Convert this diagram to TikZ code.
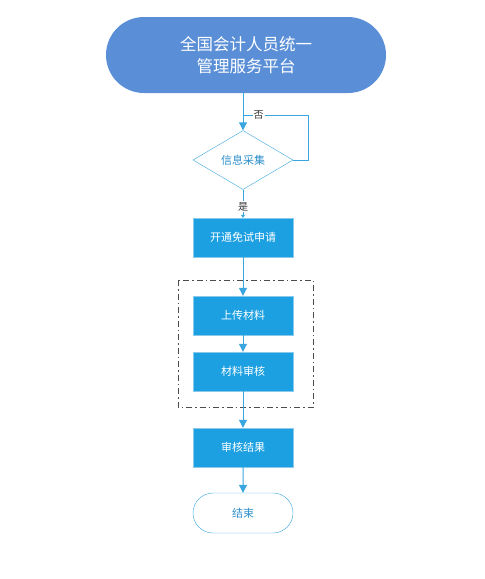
\documentclass[tikz,border=0pt]{standalone}
\usepackage{fontspec}
\setmainfont{Noto Sans CJK SC}
\usetikzlibrary{arrows.meta,shapes.geometric,shapes.misc}
\definecolor{startblue}{HTML}{5A8FD7}
\definecolor{boxblue}{HTML}{1DA0E2}
\definecolor{lineblue}{HTML}{3AA6DF}
\definecolor{textblue}{HTML}{2C8FCC}
\begin{document}
\begin{tikzpicture}[x=1pt, y=-1pt,
  every node/.style={font=\fontsize{11}{13}\selectfont, inner sep=0pt},
  stepbox/.style={rectangle, fill=boxblue, draw=lineblue!60, text=white,
    minimum width=100pt, minimum height=39pt},
  endcap/.style={rounded rectangle, draw=lineblue, fill=white, text=textblue,
    minimum width=100pt, minimum height=40pt},
  link/.style={draw=lineblue, line width=1pt, -{Triangle[width=8pt,length=8pt]}}]
  \useasboundingbox (0,0) rectangle (485,579);

  % start of the process
  \node[rounded rectangle, fill=startblue, text=white, minimum width=280pt,
    minimum height=76pt, align=center, font=\fontsize{16.5}{22}\selectfont]
    (start) at (246,55) {全国会计人员统一\\管理服务平台};

  % collecting information
  \node[diamond, aspect=1.7, draw=lineblue, fill=white, text=textblue,
    minimum width=100pt, minimum height=59pt] (collect) at (243,160) {信息采集};

  % main steps
  \node[stepbox] (apply) at (243,237.5) {开通免试申请};
  \node[stepbox] (upload) at (243,315.5) {上传材料};
  \node[stepbox] (review) at (243,371.5) {材料审核};
  \node[stepbox] (result) at (243,447.5) {审核结果};
  \node[endcap] (finish) at (243,513) {结束};

  % dash-dot frame round the material steps
  \draw[black!70, line width=1pt, dash pattern=on 6pt off 3pt on 1.5pt off 3pt]
    (178,280) rectangle (313,407);

  % connectors
  \coordinate (back) at (243,115);
  \draw[link] (start.south -| collect.north) -- (collect.north);
  \draw[draw=lineblue, line width=1pt] (collect.east) -- ++(15,0) |- (back)
    node[pos=0.88, fill=white, text=black!80, font=\fontsize{10}{12}\selectfont,
      inner sep=1pt] {否};
  \draw[draw=lineblue, line width=1pt, -{Triangle[width=4pt,length=3pt]}]
    (collect.south) -- (apply.north)
    node[pos=0.6, fill=white, text=black!80, font=\fontsize{10}{12}\selectfont,
      inner sep=1pt] {是};
  \draw[link] (apply) -- (upload);
  \draw[link] (upload) -- (review);
  \draw[link] (review) -- (result);
  \draw[link] (result) -- (finish);
\end{tikzpicture}
\end{document}
